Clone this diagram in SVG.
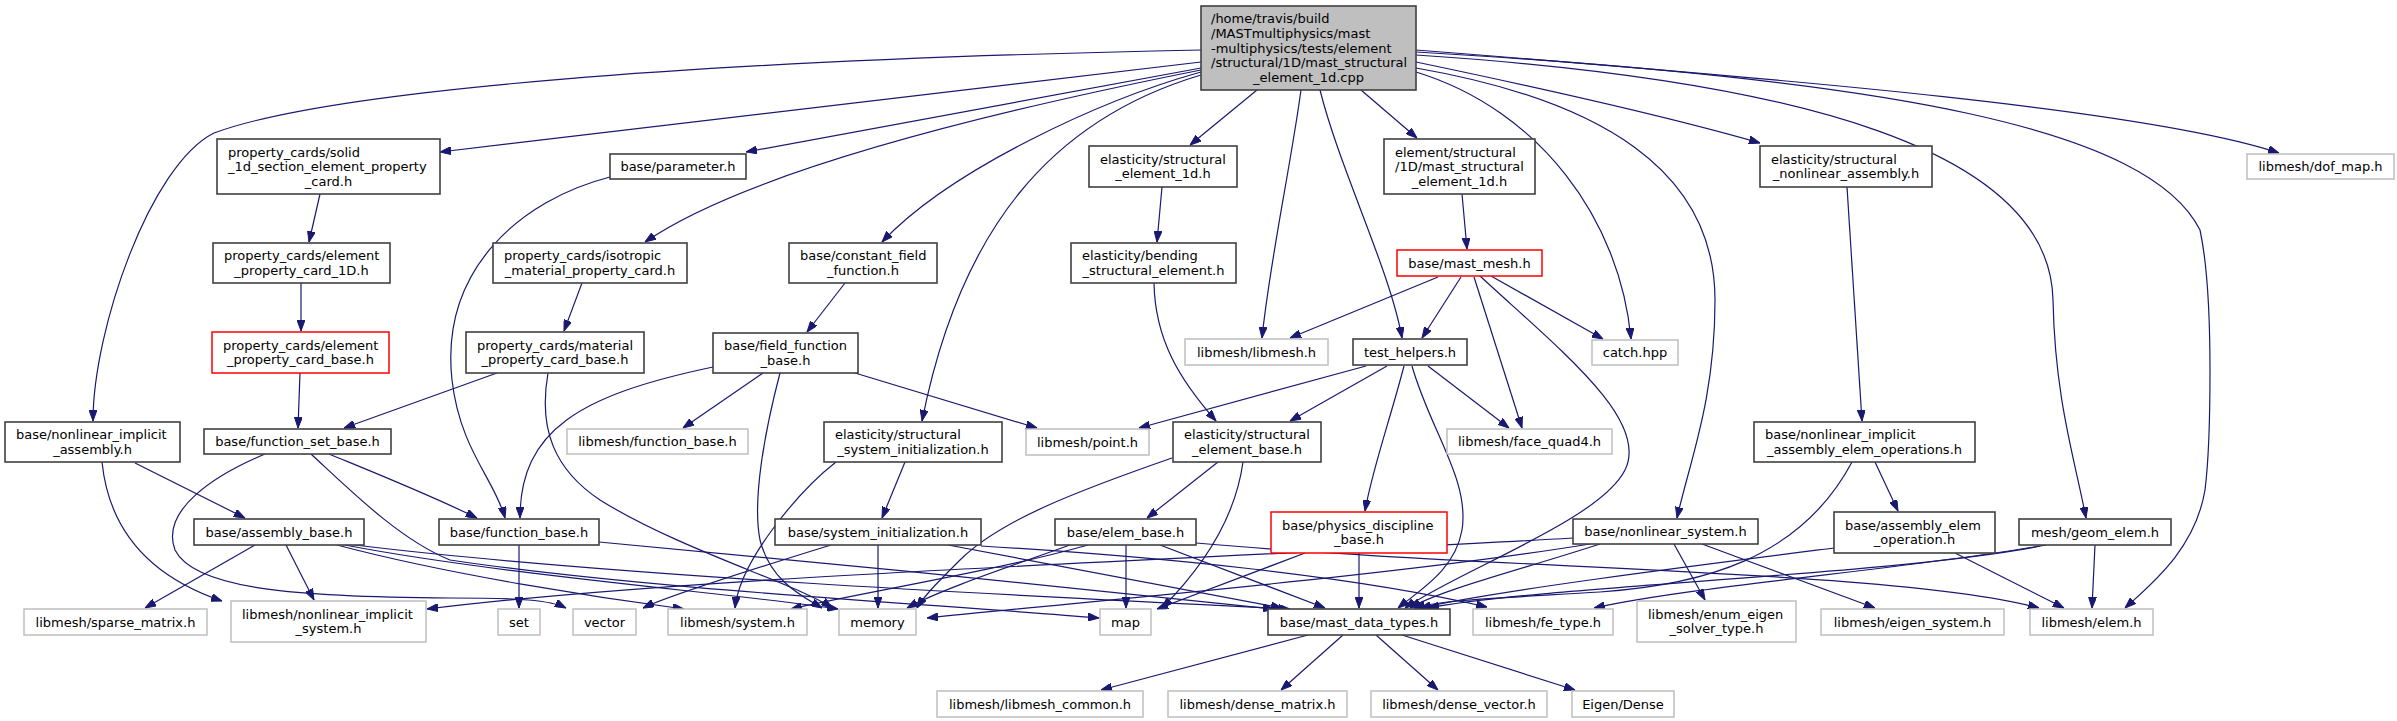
<svg xmlns="http://www.w3.org/2000/svg" width="2397" height="721" viewBox="0 0 2397 721">
<style>
.n rect{fill:#fff;stroke:#404040;stroke-width:1.6}
.g rect{fill:#fff;stroke:#bfbfbf;stroke-width:1.5}
.r rect{fill:#fff;stroke:#ff0000;stroke-width:1.5}
.root rect{fill:#bfbfbf;stroke:#404040;stroke-width:1.6}
text{font-family:"DejaVu Sans","Liberation Sans",sans-serif;font-size:13px;fill:#000}
.c{text-anchor:middle}
#connectors path{fill:none;stroke:#191970;stroke-width:1.2;marker-end:url(#a)}
</style>
<defs>
<marker id="a" markerWidth="11" markerHeight="8" refX="11" refY="4" orient="auto" markerUnits="userSpaceOnUse"><path d="M0,0L11,4L0,8z" fill="#191970" stroke="#191970" stroke-width="1"/></marker>
</defs>
<rect width="2397" height="721" fill="#fff"/>
<g id="connectors">
<path d="M1201,50 C700,60 330,90 214,133 C150,165 93,330 93,421"/>
<path d="M1201,62 L440,152"/>
<path d="M1201,68 L746,152"/>
<path d="M1201,70 C1000,110 750,170 645,242"/>
<path d="M1201,72 C1100,100 950,170 882,242"/>
<path d="M1201,75 C1050,120 960,230 922,421"/>
<path d="M1257,90 L1190,145"/>
<path d="M1301,90 C1290,170 1270,260 1262,338"/>
<path d="M1320,90 C1340,170 1390,270 1402,338"/>
<path d="M1361,90 L1417,138"/>
<path d="M1416,72 C1540,110 1620,220 1631,339"/>
<path d="M1416,68 C1600,100 1715,170 1715,300 C1715,400 1690,460 1677,518"/>
<path d="M1416,62 C1550,90 1680,120 1760,143"/>
<path d="M1416,55 C1800,80 2050,150 2053,300 C2055,400 2075,460 2086,518"/>
<path d="M1416,52 C1900,80 2150,130 2200,230 C2215,300 2210,450 2205,490 C2195,550 2150,585 2125,608"/>
<path d="M1416,50 C1800,80 2150,110 2279,153"/>
<path d="M320,194 L309,242"/>
<path d="M301,283 L301,331"/>
<path d="M300,373 L298,428"/>
<path d="M582,283 L564,331"/>
<path d="M497,373 L344,428"/>
<path d="M548,373 C538,430 555,470 600,500 C680,550 800,585 832,608"/>
<path d="M610,177 C520,200 440,270 452,380 C460,450 495,480 505,518"/>
<path d="M845,283 L807,332"/>
<path d="M713,367 C580,395 520,430 520,518"/>
<path d="M763,373 L683,428"/>
<path d="M855,373 L1037,428"/>
<path d="M780,373 C765,430 752,500 760,540 C770,580 800,595 822,608"/>
<path d="M1162,187 L1157,242"/>
<path d="M1154,283 C1155,340 1180,380 1216,421"/>
<path d="M1462,194 L1467,249"/>
<path d="M1438,277 L1290,338"/>
<path d="M1461,277 L1422,338"/>
<path d="M1491,276 L1603,339"/>
<path d="M1474,277 L1522,428"/>
<path d="M1480,276 C1560,350 1650,420 1625,470 C1600,520 1460,570 1405,608"/>
<path d="M1366,366 L1139,428"/>
<path d="M1387,366 L1290,421"/>
<path d="M1428,366 L1509,428"/>
<path d="M1404,366 C1390,420 1372,470 1365,511"/>
<path d="M1412,366 C1430,430 1470,480 1462,530 C1455,570 1420,590 1398,608"/>
<path d="M1847,187 L1862,421"/>
<path d="M1875,462 L1898,511"/>
<path d="M1852,462 C1800,560 1700,585 1600,592 C1500,598 1440,600 1414,608"/>
<path d="M905,462 L882,518"/>
<path d="M836,462 C800,490 740,560 735,608"/>
<path d="M1172,458 C1080,490 1000,520 960,560 C935,585 925,595 917,608"/>
<path d="M1218,462 L1147,518"/>
<path d="M1243,462 C1235,520 1200,570 1162,608"/>
<path d="M878,545 L878,608"/>
<path d="M831,545 C750,570 670,595 643,608"/>
<path d="M948,545 L1282,608"/>
<path d="M981,546 C1150,556 1350,575 1487,607"/>
<path d="M1070,545 C1000,570 940,590 907,608"/>
<path d="M1088,545 C1000,570 850,595 791,609"/>
<path d="M1126,545 L1126,608"/>
<path d="M1160,545 L1325,608"/>
<path d="M1196,543 C1500,570 1900,570 2039,608"/>
<path d="M1305,553 L1157,609"/>
<path d="M1359,553 L1359,608"/>
<path d="M1600,544 C1520,570 1440,590 1410,608"/>
<path d="M1573,538 C1200,560 700,575 427,609"/>
<path d="M1590,544 C1400,575 1100,600 927,618"/>
<path d="M1674,544 L1705,600"/>
<path d="M1702,544 L1875,608"/>
<path d="M1834,548 C1700,565 1500,590 1420,608"/>
<path d="M1955,553 L2064,608"/>
<path d="M2046,545 C1900,575 1550,585 1428,608"/>
<path d="M2040,546 C1900,570 1700,585 1594,608"/>
<path d="M2095,545 L2092,608"/>
<path d="M519,545 L519,608"/>
<path d="M599,542 C800,560 1100,590 1274,609"/>
<path d="M329,454 C380,475 430,495 477,518"/>
<path d="M265,454 C215,475 160,510 175,550 C195,590 300,597 450,598 C520,598 550,600 566,608"/>
<path d="M311,454 C350,490 400,540 450,560 C650,590 950,605 1099,618"/>
<path d="M102,462 C110,540 160,580 222,601"/>
<path d="M135,463 L245,518"/>
<path d="M255,545 L145,608"/>
<path d="M286,545 L314,600"/>
<path d="M337,545 C450,575 600,598 684,609"/>
<path d="M345,545 C500,575 750,595 838,609"/>
<path d="M355,545 C600,575 1000,595 1290,609"/>
<path d="M1308,635 L1101,690"/>
<path d="M1343,635 L1281,690"/>
<path d="M1376,635 L1438,690"/>
<path d="M1402,635 L1575,690"/>
</g>
<g id="root" class="root"><rect x="1201" y="6" width="215" height="84"/><text x="1211" y="23.4">/home/travis/build</text><text x="1211" y="38">/MASTmultiphysics/mast</text><text x="1211" y="52.6">-multiphysics/tests/element</text><text x="1211" y="67.2">/structural/1D/mast_structural</text><text class="c" x="1308.5" y="81.8">_element_1d.cpp</text></g>
<g id="solid" class="n"><rect x="217" y="139" width="223" height="55"/><text x="228" y="156.5">property_cards/solid</text><text x="228" y="171.1">_1d_section_element_property</text><text class="c" x="328.5" y="185.7">_card.h</text></g>
<g id="parameter" class="n"><rect x="610" y="154" width="136" height="25"/><text class="c" x="678" y="171.1">base/parameter.h</text></g>
<g id="se1d" class="n"><rect x="1089" y="146" width="148" height="41"/><text x="1100" y="163.8">elasticity/structural</text><text class="c" x="1163" y="178.4">_element_1d.h</text></g>
<g id="mse1d" class="n"><rect x="1384" y="139" width="151" height="55"/><text x="1395" y="156.5">element/structural</text><text x="1395" y="171.1">/1D/mast_structural</text><text class="c" x="1459.5" y="185.7">_element_1d.h</text></g>
<g id="sna" class="n"><rect x="1760" y="146" width="172" height="41"/><text x="1771" y="163.8">elasticity/structural</text><text class="c" x="1846" y="178.4">_nonlinear_assembly.h</text></g>
<g id="dof" class="g"><rect x="2247" y="154" width="147" height="25"/><text class="c" x="2320.5" y="171.1">libmesh/dof_map.h</text></g>
<g id="epc1d" class="n"><rect x="213" y="243" width="177" height="40"/><text x="224" y="260.3">property_cards/element</text><text class="c" x="301.5" y="274.9">_property_card_1D.h</text></g>
<g id="iso" class="n"><rect x="493" y="243" width="194" height="40"/><text x="504" y="260.3">property_cards/isotropic</text><text class="c" x="590" y="274.9">_material_property_card.h</text></g>
<g id="cff" class="n"><rect x="789" y="243" width="148" height="40"/><text x="800" y="260.3">base/constant_field</text><text class="c" x="863" y="274.9">_function.h</text></g>
<g id="bend" class="n"><rect x="1071" y="243" width="165" height="40"/><text x="1082" y="260.3">elasticity/bending</text><text class="c" x="1153.5" y="274.9">_structural_element.h</text></g>
<g id="mesh" class="r"><rect x="1397" y="250" width="145" height="26"/><text class="c" x="1469.5" y="267.6">base/mast_mesh.h</text></g>
<g id="epcb" class="r"><rect x="212" y="332" width="177" height="41"/><text x="223" y="349.8">property_cards/element</text><text class="c" x="300.5" y="364.4">_property_card_base.h</text></g>
<g id="mpcb" class="n"><rect x="466" y="332" width="178" height="41"/><text x="477" y="349.8">property_cards/material</text><text class="c" x="555" y="364.4">_property_card_base.h</text></g>
<g id="ffb" class="n"><rect x="713" y="333" width="145" height="40"/><text x="724" y="350.3">base/field_function</text><text class="c" x="785.5" y="364.9">_base.h</text></g>
<g id="libmesh" class="g"><rect x="1185" y="339" width="143" height="26"/><text class="c" x="1256.5" y="356.6">libmesh/libmesh.h</text></g>
<g id="th" class="n"><rect x="1353" y="339" width="114" height="26"/><text class="c" x="1410" y="356.6">test_helpers.h</text></g>
<g id="catch" class="g"><rect x="1592" y="340" width="86" height="25"/><text class="c" x="1635" y="357.1">catch.hpp</text></g>
<g id="nia" class="n"><rect x="5" y="422" width="175" height="40"/><text x="16" y="439.3">base/nonlinear_implicit</text><text class="c" x="92.5" y="453.9">_assembly.h</text></g>
<g id="fsb" class="n"><rect x="204" y="429" width="187" height="25"/><text class="c" x="297.5" y="446.1">base/function_set_base.h</text></g>
<g id="lfb" class="g"><rect x="567" y="429" width="181" height="25"/><text class="c" x="657.5" y="446.1">libmesh/function_base.h</text></g>
<g id="ssi" class="n"><rect x="824" y="422" width="178" height="40"/><text x="835" y="439.3">elasticity/structural</text><text class="c" x="913" y="453.9">_system_initialization.h</text></g>
<g id="point" class="g"><rect x="1026" y="429" width="123" height="26"/><text class="c" x="1087.5" y="446.6">libmesh/point.h</text></g>
<g id="seb" class="n"><rect x="1173" y="422" width="148" height="40"/><text x="1184" y="439.3">elasticity/structural</text><text class="c" x="1247" y="453.9">_element_base.h</text></g>
<g id="fq4" class="g"><rect x="1447" y="429" width="165" height="25"/><text class="c" x="1529.5" y="446.1">libmesh/face_quad4.h</text></g>
<g id="niaeo" class="n"><rect x="1754" y="422" width="221" height="40"/><text x="1765" y="439.3">base/nonlinear_implicit</text><text class="c" x="1864.5" y="453.9">_assembly_elem_operations.h</text></g>
<g id="ab" class="n"><rect x="194" y="519" width="170" height="26"/><text class="c" x="279" y="536.6">base/assembly_base.h</text></g>
<g id="fb" class="n"><rect x="439" y="519" width="160" height="26"/><text class="c" x="519" y="536.6">base/function_base.h</text></g>
<g id="si" class="n"><rect x="775" y="519" width="206" height="26"/><text class="c" x="878" y="536.6">base/system_initialization.h</text></g>
<g id="eb" class="n"><rect x="1055" y="519" width="141" height="26"/><text class="c" x="1125.5" y="536.6">base/elem_base.h</text></g>
<g id="pdb" class="r"><rect x="1271" y="512" width="176" height="41"/><text x="1282" y="529.8">base/physics_discipline</text><text class="c" x="1359" y="544.4">_base.h</text></g>
<g id="ns" class="n"><rect x="1573" y="519" width="185" height="25"/><text class="c" x="1665.5" y="536.1">base/nonlinear_system.h</text></g>
<g id="aeo" class="n"><rect x="1834" y="512" width="161" height="41"/><text x="1845" y="529.8">base/assembly_elem</text><text class="c" x="1914.5" y="544.4">_operation.h</text></g>
<g id="ge" class="n"><rect x="2019" y="519" width="152" height="26"/><text class="c" x="2095" y="536.6">mesh/geom_elem.h</text></g>
<g id="sm" class="g"><rect x="24" y="609" width="183" height="26"/><text class="c" x="115.5" y="626.6">libmesh/sparse_matrix.h</text></g>
<g id="nis" class="g"><rect x="231" y="601" width="195" height="41"/><text x="242" y="618.8">libmesh/nonlinear_implicit</text><text class="c" x="328.5" y="633.4">_system.h</text></g>
<g id="set" class="g"><rect x="498" y="609" width="42" height="26"/><text class="c" x="519" y="626.6">set</text></g>
<g id="vector" class="g"><rect x="573" y="609" width="63" height="26"/><text class="c" x="604.5" y="626.6">vector</text></g>
<g id="sys" class="g"><rect x="668" y="609" width="139" height="26"/><text class="c" x="737.5" y="626.6">libmesh/system.h</text></g>
<g id="memory" class="g"><rect x="839" y="609" width="77" height="26"/><text class="c" x="877.5" y="626.6">memory</text></g>
<g id="map" class="g"><rect x="1100" y="609" width="51" height="26"/><text class="c" x="1125.5" y="626.6">map</text></g>
<g id="mdt" class="n"><rect x="1268" y="609" width="182" height="26"/><text class="c" x="1359" y="626.6">base/mast_data_types.h</text></g>
<g id="fe" class="g"><rect x="1473" y="609" width="140" height="26"/><text class="c" x="1543" y="626.6">libmesh/fe_type.h</text></g>
<g id="enum" class="g"><rect x="1637" y="601" width="159" height="41"/><text x="1648" y="618.8">libmesh/enum_eigen</text><text class="c" x="1716.5" y="633.4">_solver_type.h</text></g>
<g id="eigsys" class="g"><rect x="1821" y="609" width="183" height="26"/><text class="c" x="1912.5" y="626.6">libmesh/eigen_system.h</text></g>
<g id="elem" class="g"><rect x="2030" y="609" width="123" height="26"/><text class="c" x="2091.5" y="626.6">libmesh/elem.h</text></g>
<g id="common" class="g"><rect x="937" y="691" width="206" height="26"/><text class="c" x="1040" y="708.6">libmesh/libmesh_common.h</text></g>
<g id="dmat" class="g"><rect x="1168" y="691" width="179" height="26"/><text class="c" x="1257.5" y="708.6">libmesh/dense_matrix.h</text></g>
<g id="dvec" class="g"><rect x="1371" y="691" width="176" height="26"/><text class="c" x="1459" y="708.6">libmesh/dense_vector.h</text></g>
<g id="eigen" class="g"><rect x="1572" y="691" width="102" height="26"/><text class="c" x="1623" y="708.6">Eigen/Dense</text></g>
</svg>
